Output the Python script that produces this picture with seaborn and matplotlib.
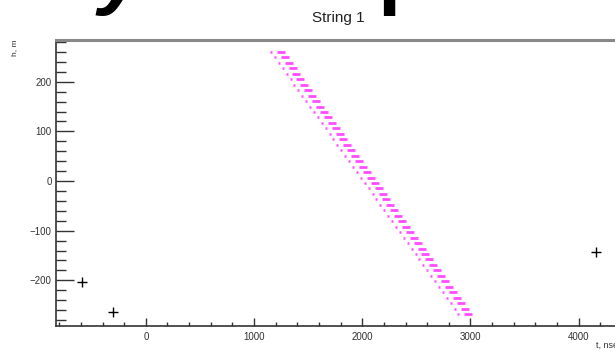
import matplotlib
matplotlib.use("Agg")
import matplotlib.pyplot as plt
import seaborn as sns
from matplotlib.ticker import MultipleLocator

# ---- data ----
row_h = [260, 249, 238, 227, 216, 205, 194, 183, 172, 161, 150, 139, 128, 117, 106,
         95, 84, 73, 62, 51, 40, 29, 18, 7, -4, -15, -26, -37, -48, -59, -70, -81,
         -92, -103, -114, -125, -136, -147, -158, -169, -180, -191, -202, -213, -224,
         -235, -246, -257, -268]
dash_t = [1248, 1284, 1320, 1356, 1392, 1429, 1465, 1501, 1537, 1573, 1609, 1645,
          1681, 1717, 1753, 1790, 1826, 1862, 1898, 1934, 1970, 2006, 2042, 2078,
          2114, 2150, 2187, 2223, 2259, 2295, 2331, 2367, 2403, 2439, 2475, 2511,
          2548, 2584, 2620, 2656, 2692, 2728, 2764, 2800, 2836, 2872, 2909, 2945, 2981]
dot_t = [1156, 1192, 1228, 1264, 1300, 1337, 1373, 1409, 1445, 1481, 1517, 1553,
         1589, 1625, 1661, 1698, 1734, 1770, 1806, 1842, 1878, 1914, 1950, 1986,
         2022, 2058, 2095, 2131, 2167, 2203, 2239, 2275, 2311, 2347, 2383, 2419,
         2456, 2492, 2528, 2564, 2600, 2636, 2672, 2708, 2744, 2780, 2817, 2853, 2889]
hit_t = [-594, -302, 4162]
hit_h = [-203, -263, -142]

title = "String 1"
xlabel = "t, nsec"
ylabel = "h, m"

sns.set_style("white")
plt.rcParams['font.family'] = ['Liberation Sans', 'DejaVu Sans']

fig = plt.figure(figsize=(6.15, 3.55), dpi=100)
ax = fig.add_axes([56/615, 1-326/355, 566/615, 286/355])

sns.scatterplot(x=dash_t, y=row_h, marker='_', s=36, linewidth=2.0,
                color='#ff4dff', ax=ax, legend=False)
sns.scatterplot(x=dot_t, y=row_h, marker='_', s=4, linewidth=1.8,
                color='#ff4dff', ax=ax, legend=False)
sns.scatterplot(x=hit_t, y=hit_h, marker='+', s=60, linewidth=1.0,
                color='black', ax=ax, legend=False)

ax.set_xlim(-830, 4400)
ax.set_ylim(-292, 284)
ax.set_xlabel("")
ax.set_ylabel("")

ax.xaxis.set_major_locator(MultipleLocator(1000))
ax.xaxis.set_minor_locator(MultipleLocator(200))
ax.yaxis.set_major_locator(MultipleLocator(100))
ax.yaxis.set_minor_locator(MultipleLocator(20))

ax.tick_params(axis='both', which='both', direction='in', colors='#333333',
               labelsize=7, labelcolor='#333333')
ax.tick_params(axis='y', which='major', length=13, width=1.0, pad=3)
ax.tick_params(axis='y', which='minor', length=7, width=1.0)
ax.tick_params(axis='x', which='major', length=5.5, width=1.0, pad=4)
ax.tick_params(axis='x', which='minor', length=3, width=1.0)
ax.xaxis.set_ticks_position('bottom')
ax.yaxis.set_ticks_position('left')

for side in ['left', 'bottom']:
    ax.spines[side].set_color('#333333')
    ax.spines[side].set_linewidth(1.2)
ax.spines['top'].set_color('#888888')
ax.spines['top'].set_linewidth(2.2)
ax.spines['right'].set_visible(False)

fig.text(338/615, 1-18/355, title, ha='center', va='center', fontsize=11,
         color='#222222')
fig.text(15/615, 1-39/355, ylabel, rotation=90, ha='center', va='top',
         fontsize=6, color='#333333')
fig.text(622/615, 1-345/355, xlabel, ha='right', va='center', fontsize=6.5,
         color='#333333')

# cropped heading glyphs at the very top of the picture (only descenders show)
fig.text(98/615, 1+1/355, "y", ha='left', va='baseline', fontsize=60,
         fontweight='bold', fontstyle='italic', color='black')
fig.text(377/615, 1+1/355, "p", ha='left', va='baseline', fontsize=60,
         fontweight='bold', color='black')

fig.savefig("out.png", dpi=100)
